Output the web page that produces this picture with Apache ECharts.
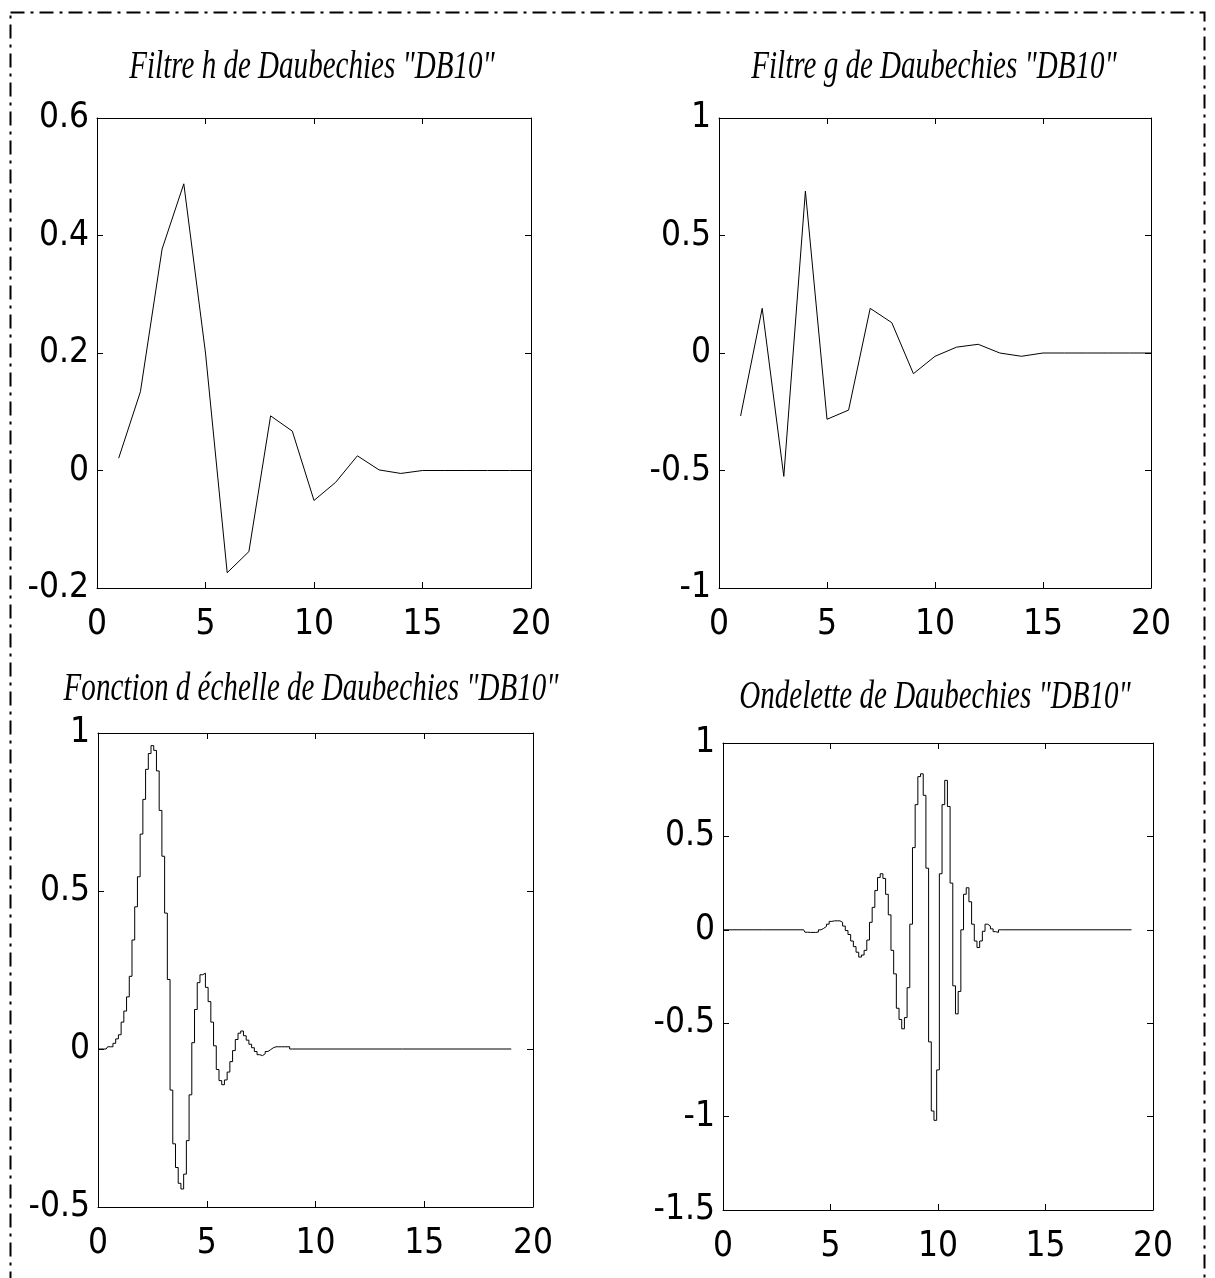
<!DOCTYPE html>
<html>
<head>
<meta charset="utf-8">
<script src="https://cdn.jsdelivr.net/npm/echarts@6/dist/echarts.min.js"></script>
<style>
html,body{margin:0;padding:0;background:#fff;}
#c{width:1215px;height:1278px;}
</style>
</head>
<body>
<div id="c"></div>
<script>
// ---------- data ----------
const titles = [
  'Filtre h de Daubechies "DB10"',
  'Filtre g de Daubechies "DB10"',
  'Fonction d échelle de Daubechies "DB10"',
  'Ondelette de Daubechies "DB10"'
];
const xTicks = [0, 5, 10, 15, 20];

const hX = [1,2,3,4,5,6,7,8,9,10,11,12,13,14,15,16,17,18,19,20];
const hY = [0.021,0.134,0.377,0.488,0.200,-0.174,-0.138,0.093,0.067,-0.051,-0.020,0.025,0.001,-0.005,0,0,0,0,0,0];

const gX = [1,2,3,4,5,6,7,8,9,10,11,12,13,14,15,16,17,18,19,20];
const gY = [-0.268,0.190,-0.525,0.689,-0.282,-0.243,0.190,0.129,-0.088,-0.014,0.025,0.037,0,-0.014,0,0,0,0,0,0];

const phiX = [0,0.125,0.25,0.375,0.5,0.625,0.75,0.875,1,1.125,1.25,1.375,1.5,1.625,1.75,1.875,
  2,2.125,2.25,2.375,2.5,2.625,2.75,2.875,3,3.125,3.25,3.375,3.5,3.625,3.75,3.875,
  4,4.125,4.25,4.375,4.5,4.625,4.75,4.875,5,5.125,5.25,5.375,5.5,5.625,5.75,5.875,
  6,6.125,6.25,6.375,6.5,6.625,6.75,6.875,7,7.125,7.25,7.375,7.5,7.625,7.75,7.875,
  8,8.125,8.25,8.375,8.5,8.625,8.75,8.875,9,19];
const phiY = [0,0,0,0,0.007,0.007,0.018,0.032,0.045,0.085,0.12,0.165,0.23,0.345,0.45,0.545,
  0.68,0.79,0.885,0.935,0.96,0.945,0.88,0.755,0.61,0.43,0.22,-0.13,-0.30,-0.375,-0.425,-0.443,
  -0.396,-0.29,-0.145,0.02,0.125,0.21,0.235,0.24,0.195,0.15,0.085,0.01,-0.065,-0.10,-0.113,-0.098,
  -0.073,-0.04,-0.005,0.03,0.05,0.057,0.042,0.028,0.015,0.004,-0.008,-0.018,-0.021,-0.015,-0.008,-0.002,
  0.004,0.007,0.007,0.007,0.007,0.007,0.007,0,0,0];

const psiX = [0,3.75,3.875,4,4.125,4.25,4.375,4.5,4.625,4.75,4.875,5,5.125,5.25,5.375,5.5,5.625,5.75,5.875,
  6,6.125,6.25,6.375,6.5,6.625,6.75,6.875,7,7.125,7.25,7.375,7.5,7.625,7.75,7.875,
  8,8.125,8.25,8.375,8.5,8.625,8.75,8.875,9,9.125,9.25,9.375,9.5,9.625,9.75,9.875,
  10,10.125,10.25,10.375,10.5,10.625,10.75,10.875,11,11.125,11.25,11.375,11.5,11.625,11.75,11.875,
  12,12.125,12.25,12.375,12.5,12.625,12.75,12.875,13,19];
const psiY = [0,0,-0.013,-0.014,-0.014,-0.014,-0.012,0,0.008,0.018,0.03,0.045,0.048,0.048,0.048,0.04,0.02,-0.004,-0.025,
  -0.06,-0.09,-0.12,-0.146,-0.135,-0.11,-0.055,0.04,0.12,0.21,0.28,0.30,0.275,0.19,0.08,-0.11,
  -0.236,-0.42,-0.48,-0.53,-0.47,-0.31,0.03,0.44,0.67,0.82,0.835,0.72,0.33,-0.6,-0.97,-1.02,
  -0.75,0.3,0.67,0.80,0.66,0.25,-0.30,-0.45,-0.33,0.0,0.19,0.225,0.15,0.03,-0.06,-0.095,
  -0.06,-0.008,0.03,0.02,0.005,-0.01,-0.014,0,0,0];

const yRanges = [
  {min:-0.2, max:0.6, interval:0.2},
  {min:-1, max:1, interval:0.5},
  {min:-0.5, max:1, interval:0.5},
  {min:-1.5, max:1, interval:0.5}
];

// ---------- layout ----------
const grids = [
  {left:97, top:118, width:434, height:470},
  {left:719, top:118, width:432, height:470},
  {left:98, top:733, width:435, height:474},
  {left:723, top:743, width:430, height:467}
];
const titlePos = [[312,68],[934,68],[311,690],[935,698]];

const labelFont = '"Liberation Sans Narrow","Arial Narrow","DejaVu Sans Condensed","Liberation Sans",sans-serif';
const lineBlack = {color:'#000', width:1};

const xAxes = [], yAxes = [], series = [], graphics = [];
const sets = [[hX,hY,false],[gX,gY,false],[phiX,phiY,'middle'],[psiX,psiY,'middle']];

grids.forEach((g, i) => {
  // bottom x axis (with labels)
  xAxes.push({
    type:'value', gridIndex:i, position:'bottom', min:xTicks[0], max:xTicks[xTicks.length-1],
    interval:xTicks[1]-xTicks[0],
    axisLine:{show:true, onZero:false, lineStyle:lineBlack},
    axisTick:{show:true, inside:true, length:6, lineStyle:lineBlack},
    axisLabel:{show:true, margin:19, color:'#000', fontSize:35, fontFamily:labelFont},
    splitLine:{show:false}
  });
  // top x axis (ticks only)
  xAxes.push({
    type:'value', gridIndex:i, position:'top', min:xTicks[0], max:xTicks[xTicks.length-1],
    interval:xTicks[1]-xTicks[0],
    axisLine:{show:true, onZero:false, lineStyle:lineBlack},
    axisTick:{show:true, inside:true, length:6, lineStyle:lineBlack},
    axisLabel:{show:false}, splitLine:{show:false}
  });
  const r = yRanges[i];
  yAxes.push({
    type:'value', gridIndex:i, position:'left', min:r.min, max:r.max, interval:r.interval,
    axisLine:{show:true, onZero:false, lineStyle:lineBlack},
    axisTick:{show:true, inside:true, length:6, lineStyle:lineBlack},
    axisLabel:{show:true, margin:8, color:'#000', fontSize:35, fontFamily:labelFont},
    splitLine:{show:false}
  });
  yAxes.push({
    type:'value', gridIndex:i, position:'right', min:r.min, max:r.max, interval:r.interval,
    axisLine:{show:true, onZero:false, lineStyle:lineBlack},
    axisTick:{show:true, inside:true, length:6, lineStyle:lineBlack},
    axisLabel:{show:false}, splitLine:{show:false}
  });
  const [xs, ys, step] = sets[i];
  series.push({
    type:'line', xAxisIndex:2*i, yAxisIndex:2*i,
    data: xs.map((x, k) => [x, ys[k]]),
    showSymbol:false, symbol:'none', step:step,
    lineStyle:{color:'#000', width:1}, silent:true, animation:false
  });
  graphics.push({
    type:'text', x:titlePos[i][0], y:titlePos[i][1], scaleX:0.745, scaleY:1,
    style:{text:titles[i], font:'italic 39px "Liberation Serif","Times New Roman",serif',
      fill:'#000', textAlign:'center', textVerticalAlign:'middle'}
  });
});

// dash-dot outer frame
graphics.push({
  type:'rect', shape:{x:10.5, y:12.5, width:1194, height:1400},
  style:{fill:'none', stroke:'#000', lineWidth:2, lineDash:[14,6,3,6]}, silent:true
});

const chart = echarts.init(document.getElementById('c'), null, {renderer:'canvas'});
chart.setOption({
  animation:false,
  backgroundColor:'#fff',
  grid: grids,
  xAxis: xAxes,
  yAxis: yAxes,
  series: series,
  graphic: graphics
});
</script>
</body>
</html>
